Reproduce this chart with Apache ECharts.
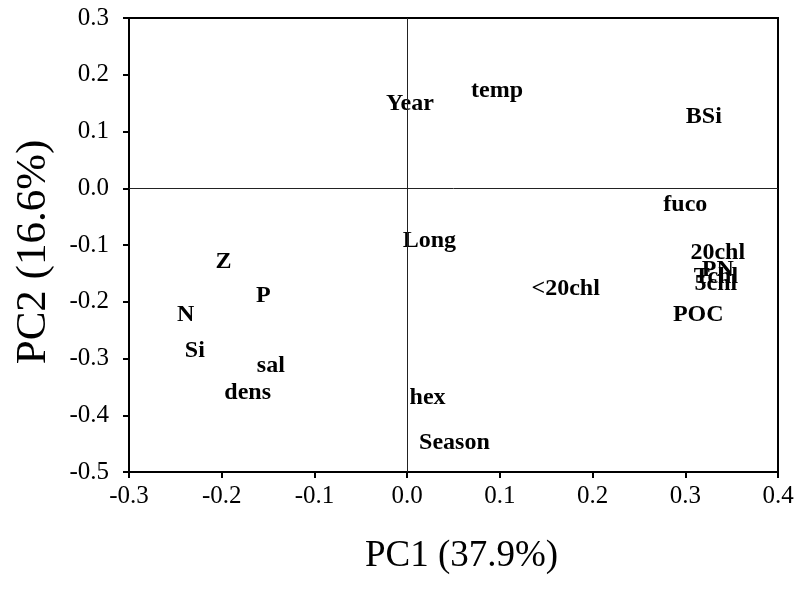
<!DOCTYPE html>
<html>
<head>
<meta charset="utf-8">
<script src="https://cdn.jsdelivr.net/npm/echarts@6/dist/echarts.min.js"></script>
<style>
  html, body { margin: 0; padding: 0; background: #fff; }
  #chart { width: 802px; height: 593px; }
</style>
</head>
<body>
<div id="chart"></div>
<script>
// PCA loadings: variable names with their PC1 / PC2 coordinates
const variables = ['Year', 'temp', 'BSi', 'fuco', '20chl', 'PN', 'Tchl', '5chl', 'POC', '<20chl',
                   'Long', 'hex', 'Season', 'Z', 'P', 'N', 'Si', 'sal', 'dens'];
const pc1 = [0.003, 0.097, 0.320, 0.300, 0.335, 0.335, 0.333, 0.333, 0.314, 0.171,
             0.024, 0.022, 0.051, -0.198, -0.155, -0.239, -0.229, -0.147, -0.172];
const pc2 = [0.148, 0.171, 0.126, -0.030, -0.114, -0.144, -0.156, -0.169, -0.223, -0.178,
             -0.093, -0.370, -0.449, -0.130, -0.190, -0.223, -0.287, -0.313, -0.361];

const xTitle = 'PC1 (37.9%)';
const yTitle = 'PC2 (16.6%)';

const serif = '"Liberation Serif", "Times New Roman", serif';
const fmt = v => (Math.abs(v) < 1e-9 ? '0.0' : v.toFixed(1));

const points = variables.map((n, i) => ({ name: n, value: [pc1[i], pc2[i]] }));

const chart = echarts.init(document.getElementById('chart'), null, { renderer: 'canvas' });
chart.setOption({
  animation: false,
  backgroundColor: '#fff',
  grid: {
    left: 129, right: 24, top: 18, bottom: 121,
    show: true, borderColor: '#000', borderWidth: 2, backgroundColor: 'transparent'
  },
  xAxis: {
    type: 'value', min: -0.3, max: 0.4, interval: 0.1,
    name: xTitle, nameLocation: 'middle', nameGap: 66,
    nameTextStyle: { fontFamily: serif, fontSize: 37, color: '#000', padding: [0, 0, 0, 16] },
    axisLine: { show: true, onZero: false, lineStyle: { color: '#000', width: 2 } },
    axisTick: { show: true, inside: false, length: 6, lineStyle: { color: '#000', width: 2 } },
    axisLabel: { margin: 12, fontFamily: serif, fontSize: 25, color: '#000', formatter: fmt },
    splitLine: { show: false }
  },
  yAxis: {
    type: 'value', min: -0.5, max: 0.3, interval: 0.1,
    name: yTitle, nameLocation: 'middle', nameGap: 74, nameRotate: 90,
    nameTextStyle: { fontFamily: serif, fontSize: 43, color: '#000', padding: [0, 14, 0, 0] },
    axisLine: { show: true, onZero: false, lineStyle: { color: '#000', width: 2 } },
    axisTick: { show: true, inside: false, length: 6, lineStyle: { color: '#000', width: 2 } },
    axisLabel: { margin: 20, fontFamily: serif, fontSize: 25, color: '#000', formatter: fmt },
    splitLine: { show: false }
  },
  series: [{
    type: 'scatter',
    data: points,
    symbolSize: 0,
    itemStyle: { color: '#000', opacity: 1 },
    emphasis: { disabled: true },
    label: {
      show: true,
      position: [0, 0],
      align: 'center',
      verticalAlign: 'middle',
      formatter: p => p.name,
      fontFamily: serif,
      fontWeight: 'bold',
      fontSize: 24,
      color: '#000',
      opacity: 1,
      textBorderWidth: 0
    },
    markLine: {
      silent: true,
      symbol: 'none',
      label: { show: false },
      lineStyle: { color: '#222', width: 1, type: 'solid', opacity: 1 },
      data: [{ xAxis: 0 }, { yAxis: 0 }]
    },
    z: 3
  }]
});
</script>
</body>
</html>
